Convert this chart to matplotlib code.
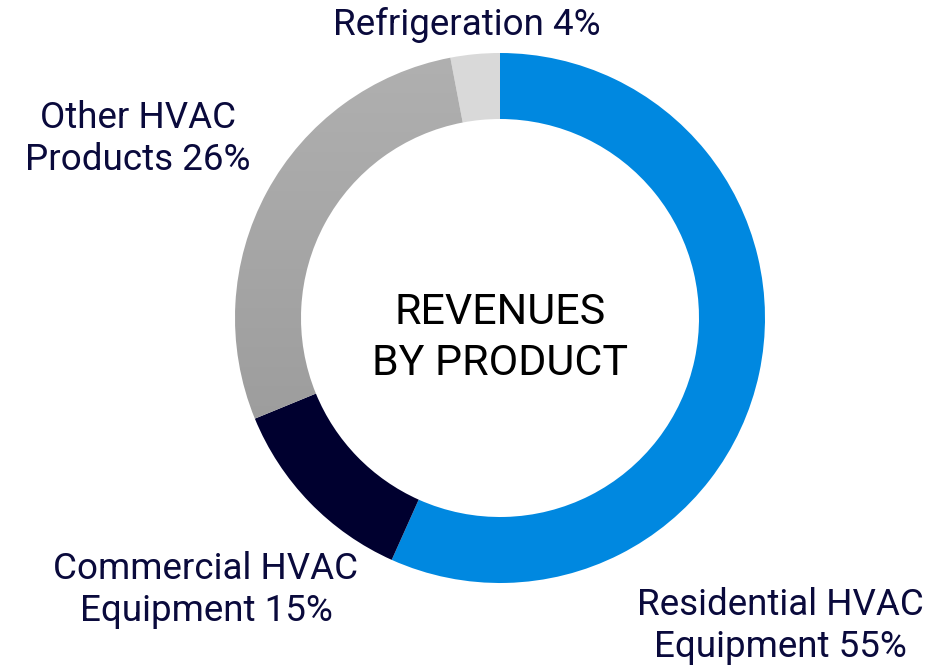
import numpy as np
import matplotlib
matplotlib.use("Agg")
import matplotlib.pyplot as plt

# 数据（扇区大小按图上角度读取，标签使用图中文字）
categories = ["Residential HVAC\nEquipment", "Commercial HVAC\nEquipment",
              "Other HVAC\nProducts", "Refrigeration"]
label_pct = [55, 15, 26, 4]
wedge_sizes = [56.7, 12.1, 28.2, 3.0]
colors = ["#0088e0", "#00002f", "#a8a8a8", "#d9d9d9"]

W, H = 943, 671
plt.rcParams['font.family'] = ['Roboto', 'DejaVu Sans']

fig = plt.figure(figsize=(W / 100, H / 100), dpi=100)
ax = fig.add_axes([0, 0, 1, 1])

cx, cy = 500, H - 318
r_out, ring = 265, 66

wedges, _ = ax.pie(wedge_sizes, colors=colors, startangle=90, counterclock=False,
                   center=(cx, cy), radius=r_out, frame=True,
                   wedgeprops=dict(width=ring, linewidth=0))
ax.set_xlim(0, W)
ax.set_ylim(0, H)
ax.axis('off')

# 灰色扇区的竖直渐变
grey = wedges[2]
grad = np.linspace(0, 1, 256).reshape(-1, 1)
cmap = matplotlib.colors.LinearSegmentedColormap.from_list("g", ["#959595", "#b0b0b0"])
img = ax.imshow(grad, cmap=cmap, origin='lower', aspect='auto',
                extent=(cx - r_out, cx, cy - r_out, cy + r_out), zorder=grey.get_zorder())
img.set_clip_path(grey)
grey.set_facecolor('none')

# 标签
label_pos = [(780, H - 626), (206, H - 590), (138, H - 139), (467, H - 25)]
txt_color = "#0a0a3c"
for name, val, (x, y) in zip(categories, label_pct, label_pos):
    ax.text(x, y, f"{name} {val}%", ha='center', va='center', fontsize=26.5,
            color=txt_color, linespacing=1.24)

ax.text(cx, H - 338, "REVENUES\nBY PRODUCT", ha='center', va='center',
        fontsize=31, color='black', linespacing=1.3)

fig.savefig("out.png", dpi=100)
